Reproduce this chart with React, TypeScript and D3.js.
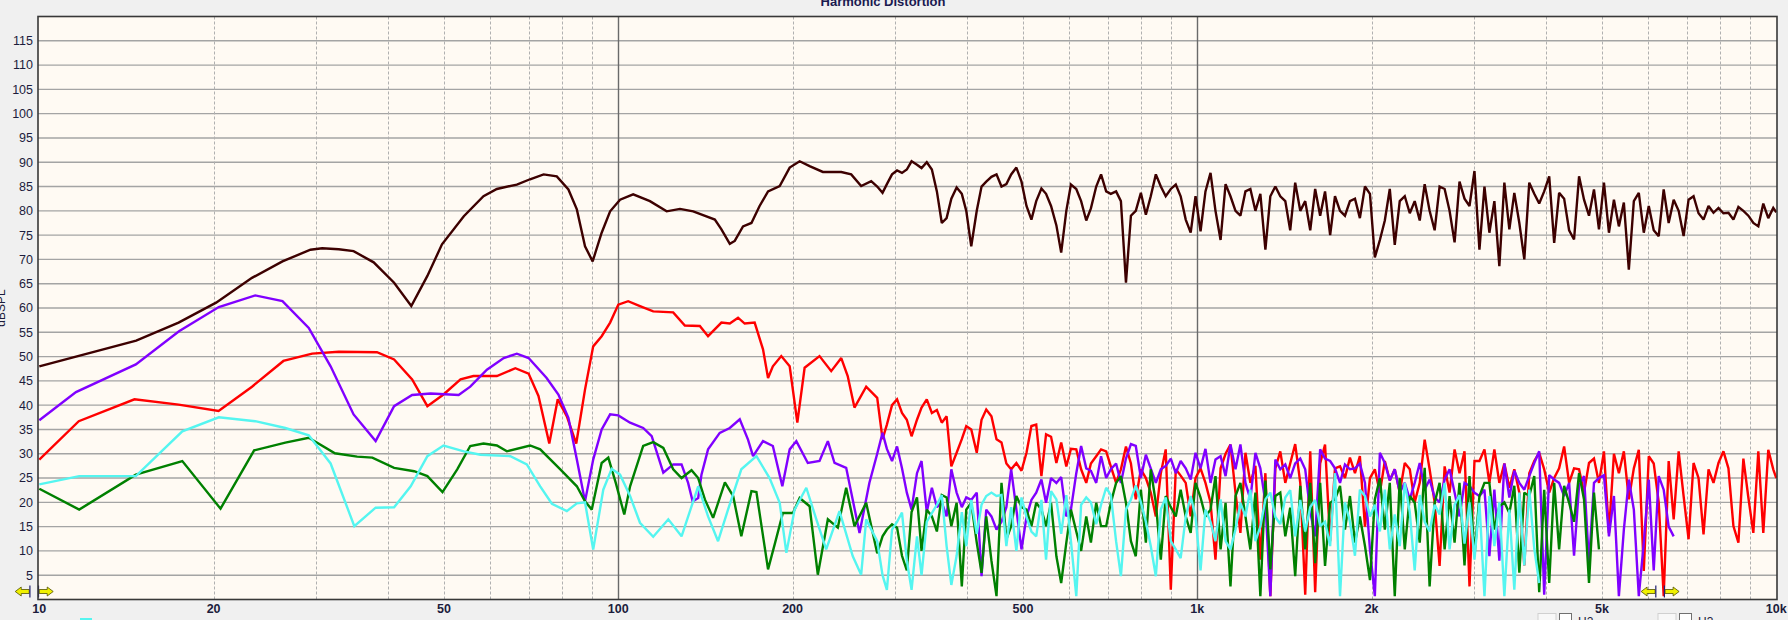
import { useEffect, useRef } from "react";
import * as d3 from "d3";

const W = 1788;
const H = 620;

const xTicks = [10, 20, 50, 100, 200, 500, 1000, 2000, 5000, 10000];
const xTickLabels = ["10", "20", "50", "100", "200", "500", "1k", "2k", "5k", "10k"];
const yTicks = [5, 10, 15, 20, 25, 30, 35, 40, 45, 50, 55, 60, 65, 70, 75, 80, 85, 90, 95, 100, 105, 110, 115];

// frequencies of the dense (high) part, shared by all traces
const hfFreq = [
  280, 286, 291, 297, 303, 309, 315, 321, 328, 334,
  341, 348, 355, 362, 369, 376, 384, 392, 399, 407,
  416, 424, 432, 441, 450, 459, 468, 477, 487, 497,
  507, 517, 527, 538, 548, 559, 571, 582, 594, 605,
  618, 630, 643, 655, 669, 682, 696, 709, 724, 738,
  753, 768, 783, 799, 815, 831, 848, 865, 882, 900,
  918, 936, 955, 974, 993, 1013, 1033, 1054, 1075, 1097,
  1119, 1141, 1164, 1187, 1211, 1235, 1260, 1285, 1311, 1337,
  1364, 1391, 1419, 1447, 1476, 1506, 1536, 1567, 1598, 1630,
  1662, 1696, 1729, 1764, 1799, 1835, 1872, 1909, 1948, 1987,
  2026, 2067, 2108, 2150, 2193, 2237, 2282, 2328, 2374, 2422,
  2470, 2519, 2570, 2621, 2674, 2727, 2782, 2837, 2894, 2952,
  3011, 3071, 3133, 3195, 3259, 3324, 3391, 3459, 3528, 3599,
  3671, 3744, 3819, 3895, 3973, 4053, 4134, 4216, 4301, 4387,
  4474, 4564, 4655, 4748, 4843, 4940, 5039, 5140, 5243, 5347,
  5454, 5563, 5675, 5788, 5904, 6022, 6142, 6265, 6390, 6518,
  6649, 6782, 6917, 7055, 7196, 7340, 7487, 7637, 7790, 7946,
  8104, 8267, 8432, 8601, 8773, 8948, 9127, 9310, 9496, 9686,
  9880, 10000,
];

// fundamental
const fundLow: [number, number][] = [
  [10, 48.0], [14.7, 53.3], [17.4, 57.0], [20.2, 61.1], [23.3, 66.2], [26.3, 69.6], [29.4, 72.0],
  [30.8, 72.3], [32.9, 72.1], [34.9, 71.7], [37.8, 69.4], [41.0, 65.2], [43.9, 60.4], [46.8, 66.6],
  [49.6, 73.1], [54.1, 78.9], [58.5, 83.0], [61.7, 84.5], [66.8, 85.4], [70.4, 86.5], [74.3, 87.5],
  [78.3, 87.1], [82.0, 84.4], [84.8, 80.3], [87.6, 72.7], [90.3, 69.6], [93.6, 75.5], [96.8, 79.9],
  [100.7, 82.3], [106.1, 83.4], [113.4, 82.0], [121.2, 79.9], [127.8, 80.4], [134.7, 79.9],
  [140.1, 79.1], [146.8, 78.2], [150.7, 76.2], [155.8, 73.2], [158.9, 73.8], [164.2, 76.8],
  [169.8, 77.5], [175.4, 81.0], [181.4, 84.0], [190, 85.1], [197.7, 88.9], [205.7, 90.2],
  [214, 89.2], [225.6, 88.0], [242.7, 88.0], [252.5, 87.5], [262.7, 85.1], [273.4, 86.1],
];
const fundHigh = [
  85, 83.7, 85.5, 87.5, 88.3, 87.8, 88.5, 90.2, 89.5, 88.8,
  90, 88.5, 84, 77.5, 78.5, 82.5, 84.8, 83.5, 80, 72.7,
  80, 85, 86, 87, 87.5, 85, 85.5, 87.5, 88.9, 86,
  81, 78.2, 82, 84.6, 83.5, 81, 77, 71.4, 80, 85.4,
  84.5, 82, 78, 80.5, 85, 87.5, 84, 83.5, 84, 82,
  65.2, 79, 80, 83.7, 79.2, 83, 87.5, 85, 83, 84.5,
  85.4, 83, 78.2, 75.5, 83, 75.8, 84, 87.8, 80, 74,
  85.5, 83, 80, 79, 84, 84.5, 80, 83.5, 72, 83,
  85, 83, 82, 76, 85.8, 80, 82, 76, 84.5, 79,
  84, 75, 83, 80, 79, 82, 82.5, 78.5, 85, 83.5,
  70.4, 74, 78, 84.5, 73, 82, 83, 79.5, 82, 78,
  85.5, 80, 76, 85, 84.5, 80, 73.5, 86, 82.5, 81,
  88.2, 72, 85, 75.5, 82, 68.6, 85.8, 76.2, 83.7, 77.5,
  70, 85.8, 83.5, 81.5, 84, 87.1, 73.4, 83.7, 82.5, 76,
  74.1, 87.1, 82.3, 79, 84.4, 76.2, 85.8, 75.5, 82.3, 76.8,
  81.7, 67.9, 82, 83.7, 75.5, 81, 76, 74.8, 84.4, 77.5,
  82.3, 80, 74.8, 82.3, 83, 79.5, 78.2, 81, 79.6, 80.6,
  79.5, 79.6, 78.2, 80.8, 80, 79, 77.5, 76.8, 81.5, 78.5,
  80.6, 79.7,
];

// H2
const h2Low: [number, number][] = [
  [10, 28.8], [11.7, 36.7], [14.6, 41.2], [17.4, 40.1], [20.4, 38.8], [23.3, 43.8], [26.4, 49.1],
  [29.6, 50.6], [32.9, 51.0], [38.3, 50.9], [41.0, 49.4], [44.05, 45.3], [46.8, 39.8], [49.9, 42.2],
  [53.4, 45.3], [56.2, 46.0], [61.7, 46.0], [66.4, 47.6], [70.0, 46.5], [72.8, 41.9], [76.0, 32.1],
  [78.6, 41.2], [81.5, 37.7], [84.6, 32.1], [87.6, 43.2], [90.5, 52.1], [93.6, 54.2], [96.8, 57.0],
  [100, 60.7], [104, 61.4], [109, 60.4], [114.9, 59.3], [124.4, 59.1], [130.3, 56.4], [138.3, 56.3],
  [142.9, 54.2], [150.7, 57.0], [155.8, 56.8], [161, 58.0], [165.3, 56.8], [172, 57.0], [177.8, 51.5],
  [181.4, 45.6], [184.9, 48.0], [191.2, 50.1], [197.7, 48.0], [203.8, 36.4], [209.8, 47.7],
  [222.6, 50.1], [233.2, 47.0], [242.7, 49.7], [249, 46.0], [255.8, 39.5], [268, 43.8],
];
const h2High = [
  41.5, 33, 36, 40, 41.2, 38.4, 37, 33.6, 37, 39.5,
  41.2, 38.4, 39, 36.4, 37.7, 27.4, 30.2, 33, 35.7, 35,
  30.2, 37, 39.1, 37.7, 33, 32.3, 28, 26.8, 28.1, 26.5,
  30.2, 35.7, 36, 25.4, 34, 33.5, 28.1, 32.3, 27.4, 31,
  30.9, 26.8, 24, 28, 29.5, 30.9, 30.5, 27.4, 24, 26.8,
  31.5, 28, 20.6, 26.8, 25, 22, 17.1, 26, 30.9, 2,
  26.8, 25.5, 24, 17.1, 25, 27, 24, 20, 8.2, 27,
  30, 31.9, 22, 13.7, 30.2, 24, 27.5, 8.2, 26, 0.7,
  27, 30.5, 24, 28, 32, 24, 1, 30.5, 1.5, 28,
  31.9, 12, 27, 27.4, 25, 29.2, 26, 29.5, 15, 25,
  26.8, 22, 28.5, 24.5, 26.8, 22, 28.1, 26.8, 20, 24,
  32.9, 26.8, 20, 6.9, 27.4, 22, 30.9, 26, 30.5, 2.7,
  28.5, 28.5, 30.9, 24, 30.9, 24, 28, 23, 26.8, 22,
  7, 26, 28.5, 30.2, 26.8, 22, 25, 27, 31.5, 24,
  27, 26.8, 22, 28.1, 29, 24, 30.5, 13.7, 30, 26,
  30.5, 20.6, 27, 30.8, 5.9, 29.5, 28, 20, 0.7, 28.5,
  16.5, 30.5, 21.3, 12.4, 28.1, 25, 13.4, 26.8, 24, 28.1,
  30.5, 27, 15.1, 11.7, 29, 21, 13.7, 30.5, 13.7, 30.8,
  26.8, 25,
];

// H3
const h3Low: [number, number][] = [
  [10, 36.9], [11.57, 42.7], [14.68, 48.4], [17.43, 55.2], [20.42, 60.2], [23.6, 62.6], [26.3, 61.4],
  [29.2, 55.9], [31.85, 48.0], [34.9, 38.1], [38.1, 32.6], [41.0, 39.8], [44.05, 42.1], [47.4, 42.4],
  [53.0, 42.1], [55.5, 43.8], [59.3, 47.3], [63.4, 49.7], [66.8, 50.6], [70.0, 49.7], [75.2, 45.6],
  [78.8, 42.2], [82.0, 37.4], [84.8, 28.8], [87.6, 20.2], [90.5, 28.8], [93.6, 35.0], [96.8, 38.1],
  [100, 37.9], [104.8, 36.4], [110.4, 35.3], [114.2, 33.6], [119.6, 26.1], [124.4, 27.8],
  [128.6, 27.8], [132, 24.0], [134.4, 20.2], [137.4, 20.9], [139.2, 25.7], [142.9, 30.9],
  [149.7, 34.3], [155.8, 35.3], [162.1, 37.1], [167.5, 32.9], [170.9, 29.5], [177.8, 32.6],
  [184.9, 31.6], [192, 23.3], [197.7, 30.9], [203, 32.6], [212.5, 28.1], [222.6, 28.5],
  [230.1, 32.6], [236.3, 28.1], [247.5, 27.1], [261, 13.7], [271.4, 24.0],
];
const h3High = [
  30, 34.3, 31, 28.5, 31.5, 27, 22, 18.5, 26, 28.5,
  18, 23, 19, 20, 17.1, 26.8, 22, 19, 21, 20.5,
  22, 4.8, 18.5, 17.1, 14.4, 16, 19, 26.8, 18.5, 10.3,
  17, 20.5, 22, 24.7, 19.9, 25, 24, 25.2, 17.1, 18.5,
  26, 31.6, 27, 26.5, 24, 29.5, 25, 26.8, 28, 24,
  29, 32, 31.6, 25, 29.8, 27, 24, 26.8, 27.5, 29,
  26, 28.5, 27, 24.7, 30.2, 27, 31, 24, 28.8, 29.5,
  25.4, 31.9, 26.8, 31.9, 24, 20.6, 30.2, 27, 20, 0.7,
  28.8, 26.8, 27.8, 25, 28, 29, 26.8, 18, 13, 30.9,
  29, 28.5, 27, 24, 27.8, 26.8, 27, 28, 24, 10.3,
  0.7, 30.2, 28.1, 24.5, 26.8, 22, 24, 20.6, 24, 28.1,
  22.6, 24.7, 21, 20, 24.7, 26.8, 22, 17.1, 24, 23.4,
  22, 21.3, 22.6, 8.9, 22.6, 8, 28, 21, 26.5, 24,
  22.6, 25.4, 28.1, 30.5, 1, 25.6, 24.7, 24, 21.3, 24,
  9, 23.4, 25.4, 7.5, 24, 25, 25.6, 13, 21.3, 0.7,
  14.4, 24.7, 18.5, 0.7, 11.7, 24.7, 6, 25.4, 22.6, 15,
  13,
];

// H4
const h4Low: [number, number][] = [
  [10, 22.8], [11.72, 18.5], [14.68, 25.7], [17.66, 28.5], [20.56, 18.7], [23.5, 30.7], [26.6, 32.3],
  [29.2, 33.3], [32.4, 30.1], [35.4, 29.4], [37.6, 29.2], [41.0, 27.1], [44.4, 26.4], [46.8, 25.4],
  [49.7, 22.1], [52.7, 26.8], [55.5, 31.6], [58.5, 32.1], [61.7, 31.7], [64.2, 30.5], [70.4, 31.7],
  [73.3, 30.9], [79.4, 26.8], [84.8, 23.3], [87.6, 20.2], [90.0, 18.5], [93.6, 28.1], [96.1, 29.2],
  [99.0, 24.0], [102.4, 17.5], [104.8, 23.3], [110.4, 31.6], [114.9, 32.4], [119.6, 31.2],
  [124.4, 26.8], [128.6, 25.0], [133.8, 26.6], [137.4, 25.0], [141.1, 20.6], [145.8, 16.8],
  [152.8, 24.1], [157.9, 21.3], [163.1, 13.0], [169.8, 22.3], [173.2, 22.1], [181.4, 6.2],
  [186.2, 11.3], [192.4, 17.8], [200.3, 17.8], [205.7, 20.9], [214, 19.2], [221.1, 5.1],
  [230.1, 16.5], [239.4, 14.8], [247.5, 23.0], [255.8, 15.1], [268, 19.9],
];
const h4High = [
  9.5, 13, 14.4, 15.5, 14.8, 9, 6, 18, 21, 10,
  18.5, 17.1, 14, 21.5, 21, 15.1, 19.9, 2.7, 18.5, 19.9,
  11.7, 5.5, 17.1, 8, 0.7, 24, 12.4, 15.1, 21.3, 19,
  18.5, 15.1, 19.9, 18.5, 15.1, 19.9, 8.9, 3.4, 11.7, 18.5,
  14, 10, 17.1, 11.7, 19.9, 15.1, 15.1, 19.9, 24, 25.4,
  19.9, 12, 8.9, 22.6, 11.7, 26.8, 19.9, 8.2, 21.3, 19,
  17.1, 22.6, 17.1, 13.7, 24, 21, 17.1, 18.5, 25.4, 10.3,
  19.9, 2.7, 21.3, 24, 17.1, 10.3, 22, 0.7, 24.5, 6.2,
  21.3, 22, 13, 18.9, 4.8, 23.4, 10.3, 24, 7.5, 24,
  6.9, 19.9, 20.6, 23.4, 14.4, 21.3, 11.7, 17.1, 11, 4,
  20.6, 25, 14.4, 24, 0.7, 25, 10.3, 21.3, 19.9, 11.7,
  27.1, 2.7, 19.9, 24, 10.3, 21.3, 11.7, 24, 7, 25.4,
  8.9, 21.3, 24, 24, 14.4, 19.2, 20, 17.8, 23.4, 5.5,
  22, 21.3, 25.4, 1.5, 22.6, 3.4, 24, 10.3, 23.4, 19.9,
  16, 26, 20.6, 3.4, 22, 10.3,
];

// H5
const h5Low: [number, number][] = [
  [10, 23.7], [11.72, 25.4], [14.68, 25.4], [17.66, 34.6], [20.42, 37.5], [23.6, 36.7], [26.6, 35.3],
  [29.2, 33.8], [31.85, 28.0], [35.0, 15.1], [38.1, 18.9], [41.0, 19.0], [43.8, 23.3], [46.8, 29.5],
  [49.9, 31.7], [54.1, 30.5], [57.8, 29.8], [65.1, 29.5], [69.5, 27.8], [73.3, 23.3], [76.8, 19.7],
  [81.5, 18.2], [84.8, 19.8], [87.6, 20.0], [90.5, 10.3], [94.2, 22.6], [97.4, 26.9], [100.7, 25.7],
  [104.8, 21.3], [109, 15.8], [114.9, 12.9], [122, 16.5], [128.6, 13.0], [137.4, 23.3], [142.9, 17.1],
  [148.7, 12.0], [154.7, 18.5], [163.1, 26.8], [173.2, 29.5], [182.5, 25.0], [190, 19.9], [195.1, 9.6],
  [201.6, 18.5], [211.2, 23.0], [219.8, 16.5], [228.6, 10.3], [241, 18.2], [254.1, 8.9], [262.7, 5.1],
  [268, 16.5],
];
const h5High = [
  12, 5, 2, 14.4, 16, 17.9, 8, 2, 13, 5,
  16, 17.8, 19.5, 21.5, 11, 3, 9, 18, 11, 20.5,
  13.5, 19.5, 21.3, 22, 21.3, 21.5, 11, 19, 10, 21,
  17, 14, 13, 20.5, 8.2, 22.3, 20.6, 13.5, 21.5, 12,
  0.7, 19.5, 21, 20, 15.5, 19.5, 23, 21.5, 12, 4.8,
  18.5, 20.6, 23.5, 20, 16, 11, 4.8, 18.5, 21, 12,
  10.3, 8.5, 17, 21.3, 17, 6, 18.5, 16, 12, 20.6,
  12, 10.3, 14.4, 19.9, 17.1, 22.6, 12, 15, 20.6, 22,
  17, 15.5, 21, 22.5, 13, 20.5, 14, 19, 20.5, 15.1,
  16, 11, 26, 0.7, 20, 16, 9, 22.6, 21.3, 17.1,
  19.5, 14, 22.6, 10.3, 17.5, 11, 24, 18, 6, 21.5,
  16, 14, 19.5, 17.5, 24, 10.3, 19.5, 21.5, 11.5, 20,
  8.2, 19.9, 0.7, 21.3, 11, 20, 0.7, 18.5, 2, 22,
  7, 22.6, 10.5, 3.4,
];

// yellow range markers (Hz)
const markerFreqs = [9.8, 6300];

type Pt = [number, number];

const build = (low: Pt[], high: number[]): Pt[] => [
  ...low,
  ...high.map((v, i) => [hfFreq[i], v] as Pt),
];

export default function App() {
  const svgRef = useRef<SVGSVGElement | null>(null);

  useEffect(() => {
    if (!svgRef.current) return;
    const svg = d3.select(svgRef.current);
    svg.selectAll("*").remove();

    const left = 38, right = 1777, top = 16.5, bottom = 599.5;
    const x = d3.scaleLog().domain([10, 10000]).range([39.3, 1776.3]);
    const y = d3.scaleLinear().domain([0, 120]).range([bottom, top]);

    svg.append("rect").attr("width", W).attr("height", H).attr("fill", "#f0f0f0");

    svg.append("defs").append("clipPath").attr("id", "plotclip")
      .append("rect").attr("x", left).attr("y", top).attr("width", right - left).attr("height", bottom - top);

    svg.append("rect")
      .attr("x", left).attr("y", top).attr("width", right - left).attr("height", bottom - top)
      .attr("fill", "#fffaf3");

    // horizontal grid
    svg.append("g").selectAll("line").data(yTicks).enter().append("line")
      .attr("x1", left).attr("x2", right)
      .attr("y1", d => y(d)).attr("y2", d => y(d))
      .attr("stroke", "#a4a4a4").attr("stroke-width", 1.4);

    // vertical grid
    const minor = x.ticks().filter(t => t > 10 && t < 10000);
    svg.append("g").selectAll("line").data(minor).enter().append("line")
      .attr("x1", d => Math.round(x(d)) + 0.5).attr("x2", d => Math.round(x(d)) + 0.5)
      .attr("y1", top).attr("y2", bottom)
      .attr("stroke", d => (d === 100 || d === 1000 ? "#6a6a6a" : "#b0b0b0"))
      .attr("stroke-width", d => (d === 100 || d === 1000 ? 1.4 : 1))
      .attr("stroke-dasharray", d => (d === 100 || d === 1000 ? null : "3,2"));

    // traces
    const series = [
      { color: "#3d0000", data: build(fundLow, fundHigh) },
      { color: "#ff0000", data: build(h2Low, h2High) },
      { color: "#8000ff", data: build(h3Low, h3High) },
      { color: "#008000", data: build(h4Low, h4High) },
      { color: "#55f5f0", data: build(h5Low, h5High) },
    ];
    const line = d3.line<Pt>().x(d => x(d[0])).y(d => y(d[1]));
    const traces = svg.append("g").attr("clip-path", "url(#plotclip)");
    series.forEach(s => {
      traces.append("path")
        .attr("d", line(s.data) || "")
        .attr("fill", "none")
        .attr("stroke", s.color)
        .attr("stroke-width", 2.4)
        .attr("stroke-linejoin", "miter")
        .attr("stroke-miterlimit", 2);
    });

    // range markers
    const mk = svg.append("g");
    markerFreqs.forEach(f => {
      const cx = x(f);
      const cy = 591.5;
      mk.append("path")
        .attr("d", `M${cx - 19},${cy} L${cx - 13},${cy - 4.5} L${cx - 13},${cy - 2} L${cx - 5},${cy - 2} L${cx - 5},${cy + 2} L${cx - 13},${cy + 2} L${cx - 13},${cy + 4.5} Z`)
        .attr("fill", "#f0f000").attr("stroke", "#505000").attr("stroke-width", 0.8);
      mk.append("path")
        .attr("d", `M${cx + 19},${cy} L${cx + 13},${cy - 4.5} L${cx + 13},${cy - 2} L${cx + 5},${cy - 2} L${cx + 5},${cy + 2} L${cx + 13},${cy + 2} L${cx + 13},${cy + 4.5} Z`)
        .attr("fill", "#f0f000").attr("stroke", "#505000").attr("stroke-width", 0.8);
      [-4.3, 4.3].forEach(dx => {
        mk.append("line")
          .attr("x1", cx + dx).attr("x2", cx + dx).attr("y1", cy - 6).attr("y2", cy + 6)
          .attr("stroke", "#202070").attr("stroke-width", 1.2);
      });
    });

    // frame
    svg.append("rect")
      .attr("x", left).attr("y", top).attr("width", right - left).attr("height", bottom - top)
      .attr("fill", "none").attr("stroke", "#383838").attr("stroke-width", 1.6);

    const font = "'Liberation Sans', Arial, sans-serif";

    // y labels
    svg.append("g").selectAll("text").data(yTicks).enter().append("text")
      .attr("x", 33).attr("y", d => y(d)).attr("dy", "0.35em")
      .attr("text-anchor", "end")
      .attr("font-family", font).attr("font-size", 12.5).attr("fill", "#1c1c3c")
      .text(d => String(d));

    // x labels
    svg.append("g").selectAll("text").data(xTicks).enter().append("text")
      .attr("x", d => x(d)).attr("y", 613)
      .attr("text-anchor", "middle")
      .attr("font-family", font).attr("font-size", 12.5).attr("font-weight", "bold").attr("fill", "#1c1c3c")
      .text((_d, i) => xTickLabels[i]);

    // title, cut at the top edge as in the window it came from
    svg.append("text")
      .attr("x", 883).attr("y", 6)
      .attr("text-anchor", "middle")
      .attr("font-family", font).attr("font-size", 13).attr("font-weight", "bold").attr("fill", "#1a1a50")
      .text("Harmonic Distortion");

    // y axis title, mostly outside the window
    svg.append("text")
      .attr("transform", "translate(5,308) rotate(-90)")
      .attr("text-anchor", "middle")
      .attr("font-family", font).attr("font-size", 12).attr("fill", "#1c1c3c")
      .text("dBSPL");

    // legend row below, cut by the window
    const legend = svg.append("g");
    legend.append("line").attr("x1", 80).attr("x2", 92).attr("y1", 619).attr("y2", 619)
      .attr("stroke", "#55f5f0").attr("stroke-width", 2);
    [
      { x: 1538, label: "H2" },
      { x: 1658, label: "H3" },
    ].forEach(l => {
      legend.append("rect").attr("x", l.x).attr("y", 613.5).attr("width", 18).attr("height", 12)
        .attr("fill", "#f8f8f8").attr("stroke", "#d0d0d0");
      legend.append("rect").attr("x", l.x + 21.5).attr("y", 613.5).attr("width", 12).attr("height", 12)
        .attr("fill", "#ffffff").attr("stroke", "#707070");
      legend.append("text").attr("x", l.x + 40).attr("y", 626)
        .attr("font-family", font).attr("font-size", 12).attr("fill", "#1c1c3c")
        .text(l.label);
    });
  }, []);

  return (
    <svg
      ref={svgRef}
      width={W}
      height={H}
      style={{ position: "fixed", left: 0, top: 0, display: "block" }}
    />
  );
}
